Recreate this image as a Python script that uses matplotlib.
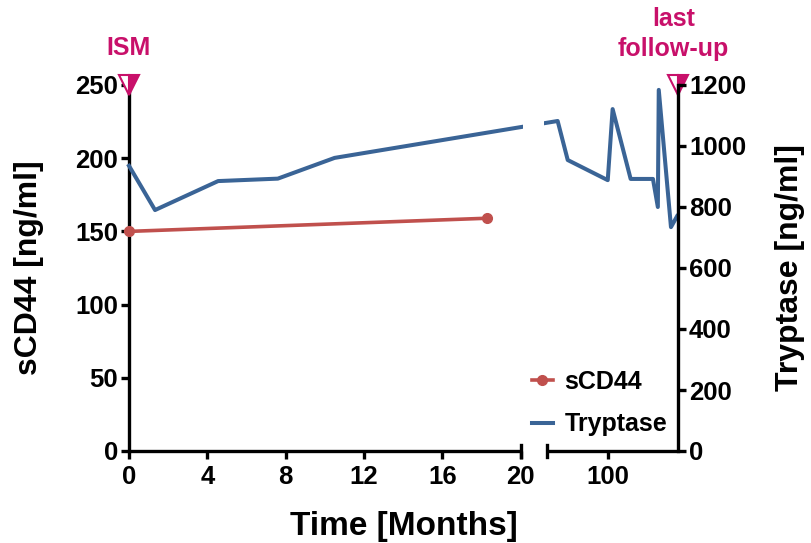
import numpy as np
import matplotlib
matplotlib.use('Agg')
import matplotlib.pyplot as plt
import matplotlib.transforms as mtransforms

plt.rcParams['font.family'] = ['Liberation Sans', 'DejaVu Sans']
plt.rcParams['font.weight'] = 'bold'

# Données (mois depuis le diagnostic)
scd44_months = [0.0, 18.3]
scd44_values = [150, 159]

tryptase_months = [0.0, 1.33, 4.55, 7.6, 10.5, 83.6, 86.9, 100.0, 101.6,
                   107.5, 114.8, 116.4, 116.7, 120.7, 122.7]
tryptase_values = [935, 790, 885, 893, 961, 1082, 954, 888, 1121,
                   892, 892, 800, 1184, 734, 770]

left_ticks = [0, 4, 8, 12, 16, 20]
right_ticks = [100]
events = ['ISM', 'last\nfollow-up']
event_months = [0.0, 123.0]

C_RED = '#C0504D'
C_BLUE = '#3A6496'
C_PINK = '#C8106A'

# axe brisé : 0-20 mois puis 80-123 mois (échelle compressée)
SEG1_END, SEG2_START, SEG2_END = 20.0, 80.0, 123.0
GAP = 1.33
K2 = 0.156
xp = np.array([-1000.0, SEG1_END, SEG2_START, 1000.0])
fp = np.array([-1000.0, SEG1_END, SEG1_END + GAP, SEG1_END + GAP + (1000.0 - SEG2_START) * K2])

def fwd(x):
    return np.interp(x, xp, fp)

def inv(u):
    return np.interp(u, fp, xp)

fig = plt.figure(figsize=(8.11, 5.43), dpi=100)
ax = fig.add_axes([129/811, 1 - 451/543, 549/811, 366/543])
ax.set_xscale('function', functions=(fwd, inv))
ax.set_xlim(0, SEG2_END)
ax.set_ylim(0, 250)
ax2 = ax.twinx()
ax2.set_ylim(0, 1200)

l1, = ax.plot(scd44_months, scd44_values, color=C_RED, linewidth=2.6, marker='o',
              markersize=7, clip_on=False, zorder=3, label='sCD44')
l2, = ax2.plot(tryptase_months, tryptase_values, color=C_BLUE, linewidth=2.9,
               clip_on=False, zorder=2, label='Tryptase')
# trou de la coupure
ax2.axvspan(26.5, 73.5, color='white', zorder=3, lw=0)

for a in (ax, ax2):
    a.spines['top'].set_visible(False)
    a.spines['bottom'].set_visible(False)
    a.spines['left'].set_linewidth(2.4)
    a.spines['right'].set_linewidth(2.4)
    a.tick_params(width=2.4, length=6, labelsize=18.5, pad=2)
ax2.spines['left'].set_visible(False)
ax.spines['right'].set_visible(False)

ax.set_yticks(np.arange(0, 251, 50))
ax2.set_yticks(np.arange(0, 1201, 200))
ax.set_xticks(left_ticks + right_ticks)
ax.set_xticklabels([str(t) for t in left_ticks + right_ticks])
ax.tick_params(axis='x', length=6, width=2.4, pad=4)
for lab in ax.get_xticklabels() + ax.get_yticklabels() + ax2.get_yticklabels():
    lab.set_fontweight('bold')

# axe x en deux morceaux
trans = mtransforms.blended_transform_factory(ax.transData, ax.transAxes)
ax2.plot([0, SEG1_END], [0, 0], color='black', lw=2.4, transform=trans,
         clip_on=False, zorder=5, solid_capstyle='butt')
ax2.plot([SEG2_START, SEG2_END], [0, 0], color='black', lw=2.4, transform=trans,
         clip_on=False, zorder=5, solid_capstyle='butt')
for xc in (SEG1_END, SEG2_START):
    ax2.plot([xc, xc], [-0.017, 0.017], color='black', lw=2.4, transform=trans,
             clip_on=False, zorder=5)

# marqueurs d'événements
for m, txt in zip(event_months, events):
    ax.plot([m], [250], marker='v', markersize=14.5, fillstyle='right',
            color=C_PINK, markerfacecoloralt='white', markeredgecolor=C_PINK,
            markeredgewidth=1.5, clip_on=False, zorder=10)
ax.text(0, 1.10, events[0], transform=trans, ha='center', va='center',
        fontsize=18, fontweight='bold', color=C_PINK)
ax.text(121.5, 1.14, events[1], transform=trans, ha='center', va='center',
        fontsize=18, fontweight='bold', color=C_PINK, linespacing=1.3)

ax.set_ylabel('sCD44 [ng/ml]', fontsize=23, fontweight='bold', labelpad=22)
ax2.set_ylabel('Tryptase [ng/ml]', fontsize=23, fontweight='bold', labelpad=21)
ax.set_xlabel('Time [Months]', fontsize=24, fontweight='bold', labelpad=16)

leg = ax2.legend([l1, l2], ['sCD44', 'Tryptase'], loc='lower right',
                 bbox_to_anchor=(0.98, 0.04), frameon=False, fontsize=18,
                 handlelength=0.85, handletextpad=0.45, labelspacing=0.75,
                 borderaxespad=0, borderpad=0)
for t in leg.get_texts():
    t.set_fontweight('bold')

fig.savefig('out.png', dpi=100)
